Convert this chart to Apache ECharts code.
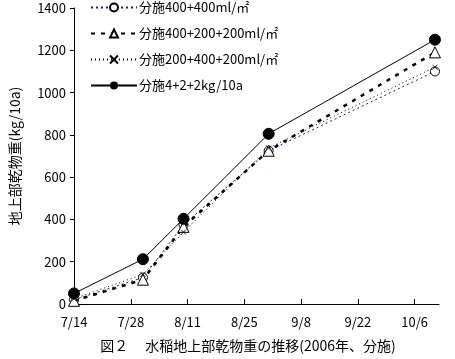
<!DOCTYPE html>
<html><head><meta charset="utf-8">
<script src="https://cdn.jsdelivr.net/npm/echarts@6/dist/echarts.min.js"></script>
<style>html,body{margin:0;padding:0;background:#fff}#c{width:455px;height:359px}</style>
</head><body><div id="c"></div>
<script>
// days since 7/14
const sampleDays = [0, 17, 27, 48, 89];
const tickLabels = ['7/14', '7/28', '8/11', '8/25', '9/8', '9/22', '10/6'];
const seriesNames = ['分施400+400ml/㎡', '分施400+200+200ml/㎡', '分施200+400+200ml/㎡', '分施4+2+2kg/10a'];
const s400_400 = [20, 125, 375, 725, 1100];
const s400_200_200 = [15, 115, 365, 725, 1190];
const s200_400_200 = [25, 140, 340, 738, 1120];
const s4_2_2 = [50, 212, 403, 805, 1250];
const yTitle = '地上部乾物重(kg/10a)';
const caption = '図２　 水稲地上部乾物重の推移(2006年、分施)';

const font = "'Noto Sans CJK JP', sans-serif";
const pairs = arr => arr.map((v, i) => [sampleDays[i], v]);
const chart = echarts.init(document.getElementById('c'), null, {renderer: 'canvas'});
chart.setOption({
  animation: false,
  backgroundColor: '#fff',
  textStyle: {fontFamily: font},
  grid: {left: 72, right: 16, top: 8, bottom: 55},
  title: {text: caption, left: 243, textAlign: 'center', top: 334,
    textStyle: {fontSize: 14, fontWeight: 'normal', color: '#000', fontFamily: font}},
  legend: {
    orient: 'vertical', left: 85, top: -4, itemWidth: 46, itemHeight: 10, itemGap: 13,
    textStyle: {fontSize: 13, color: '#000', fontFamily: font, padding: [0, 0, 0, -3]},
    data: seriesNames
  },
  xAxis: {
    type: 'value', min: 0, max: 90, interval: 14,
    axisLine: {lineStyle: {color: '#000', width: 1}},
    axisTick: {inside: true, length: 5, lineStyle: {color: '#000'}},
    splitLine: {show: false},
    axisLabel: {color: '#000', fontSize: 13, margin: 12, showMaxLabel: false,
      formatter: v => tickLabels[v / 14] || ''}
  },
  yAxis: {
    type: 'value', min: 0, max: 1400, interval: 200,
    name: yTitle, nameLocation: 'middle', nameGap: 52, nameRotate: 90,
    nameTextStyle: {fontSize: 14, color: '#000', fontFamily: font},
    axisLine: {show: true, lineStyle: {color: '#000', width: 1}},
    axisTick: {show: true, length: 4, lineStyle: {color: '#000'}},
    splitLine: {show: false},
    axisLabel: {color: '#000', fontSize: 13, margin: 8, formatter: v => String(v)}
  },
  series: [
    {name: seriesNames[0], type: 'line', data: pairs(s400_400), symbol: 'circle', symbolSize: 9,
      itemStyle: {color: '#fff', borderColor: '#000', borderWidth: 1},
      lineStyle: {color: '#1a1a80', width: 1, type: [2, 3]}, z: 2},
    {name: seriesNames[1], type: 'line', data: pairs(s400_200_200), symbol: 'triangle', symbolSize: 11,
      itemStyle: {color: '#fff', borderColor: '#000', borderWidth: 1},
      lineStyle: {color: '#000', width: 2.5, type: [4, 6]}, z: 3},
    {name: seriesNames[2], type: 'line', data: pairs(s200_400_200), symbol: 'path://M0,0L10,10M10,0L0,10', symbolSize: 5,
      itemStyle: {color: 'none', borderColor: '#000', borderWidth: 0.8},
      lineStyle: {color: '#000', width: 1, type: [1, 3]}, z: 4},
    {name: seriesNames[3], type: 'line', data: pairs(s4_2_2), symbol: 'circle', symbolSize: 11,
      itemStyle: {color: '#000', borderColor: '#000'},
      lineStyle: {color: '#000', width: 1, type: 'solid'}, z: 5}
  ]
});
</script></body></html>
